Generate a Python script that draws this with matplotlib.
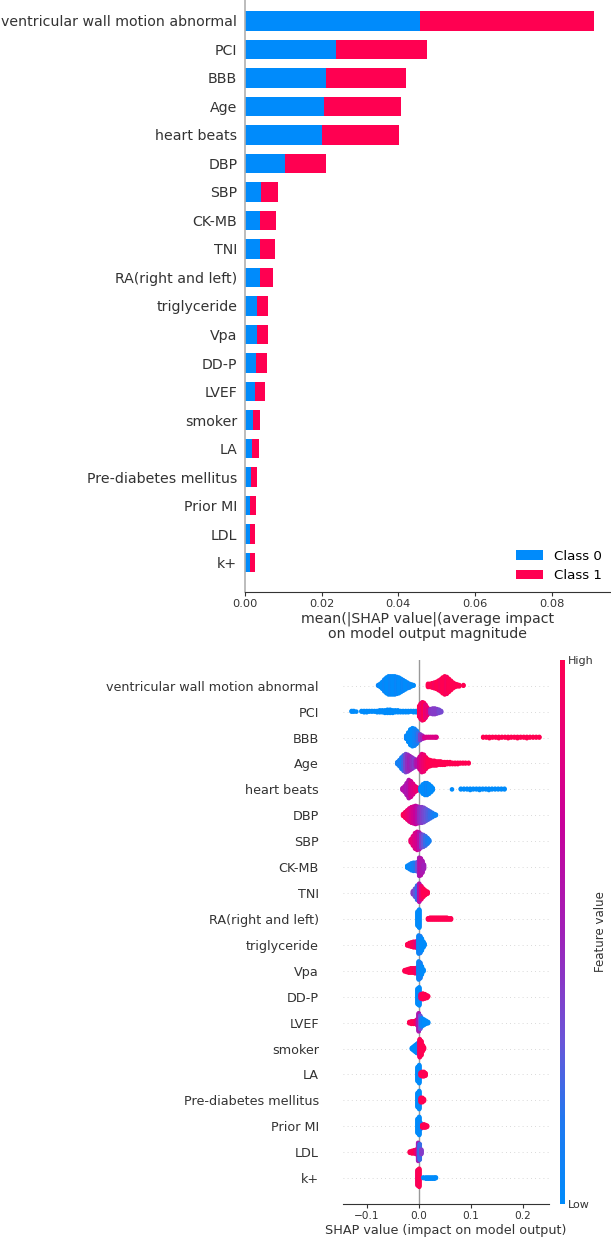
import math
import matplotlib
matplotlib.use("Agg")
import matplotlib as mpl
import matplotlib.pyplot as plt
from matplotlib.colors import LinearSegmentedColormap, Normalize

# features, top to bottom
features = ["ventricular wall motion abnormal", "PCI", "BBB", "Age", "heart beats",
            "DBP", "SBP", "CK-MB", "TNI", "RA(right and left)", "triglyceride", "Vpa",
            "DD-P", "LVEF", "smoker", "LA", "Pre-diabetes mellitus", "Prior MI", "LDL", "k+"]

# mean |SHAP| per class (bar chart)
class0 = [0.0456, 0.0238, 0.0212, 0.0205, 0.0201, 0.0105, 0.0042, 0.0040, 0.0040, 0.0038,
          0.0031, 0.0031, 0.0028, 0.0026, 0.0021, 0.0019, 0.0015, 0.0013, 0.0013, 0.0013]
class1 = [0.0454, 0.0236, 0.0209, 0.0202, 0.0201, 0.0107, 0.0044, 0.0042, 0.0039, 0.0036,
          0.0030, 0.0030, 0.0029, 0.0026, 0.0019, 0.0017, 0.0017, 0.0015, 0.0013, 0.0013]
class_names = ["Class 0", "Class 1"]

# beeswarm: for each feature, SHAP value bins, number of dots in the bin, feature value (0 low - 1 high)
swarm_x = [
    [-0.078, -0.074, -0.070, -0.066, -0.062, -0.058, -0.054, -0.050, -0.046, -0.042, -0.038, -0.034,
     -0.030, -0.026, -0.022, -0.018, -0.014, -0.010, 0.018, 0.022, 0.026, 0.030, 0.034, 0.038, 0.042,
     0.046, 0.050, 0.054, 0.058, 0.062, 0.066, 0.070, 0.074, 0.078, 0.086],
    [-0.129, -0.125, -0.120, -0.110, -0.105, -0.100, -0.095, -0.090, -0.085, -0.080, -0.075, -0.070,
     -0.065, -0.060, -0.055, -0.050, -0.045, -0.040, -0.035, -0.030, -0.025, -0.020, -0.015, -0.010,
     -0.005, 0.001, 0.004, 0.007, 0.010, 0.013, 0.016, 0.019, 0.023, 0.027, 0.031, 0.035, 0.039, 0.043],
    [-0.024, -0.020, -0.016, -0.012, -0.008, -0.004, -0.001, 0.003, 0.007, 0.011, 0.015, 0.019, 0.023,
     0.027, 0.031, 0.034, 0.124, 0.130, 0.136, 0.142, 0.148, 0.154, 0.160, 0.166, 0.172, 0.178, 0.184,
     0.190, 0.196, 0.202, 0.208, 0.214, 0.220, 0.226, 0.232],
    [-0.041, -0.037, -0.033, -0.029, -0.025, -0.021, -0.017, -0.013, -0.009, -0.005, -0.002, 0.002,
     0.006, 0.010, 0.014, 0.018, 0.022, 0.026, 0.030, 0.034, 0.038, 0.042, 0.046, 0.050, 0.055, 0.060,
     0.065, 0.070, 0.075, 0.080, 0.085, 0.090, 0.096],
    [-0.031, -0.027, -0.023, -0.019, -0.015, -0.011, -0.007, -0.003, 0.004, 0.008, 0.012, 0.016, 0.020,
     0.024, 0.027, 0.064, 0.081, 0.087, 0.093, 0.099, 0.105, 0.111, 0.117, 0.123, 0.129, 0.135, 0.141,
     0.147, 0.153, 0.159, 0.165],
    [-0.030, -0.026, -0.022, -0.018, -0.014, -0.010, -0.006, -0.002, 0.002, 0.006, 0.010, 0.014, 0.018,
     0.022, 0.026, 0.030, 0.033],
    [-0.015, -0.011, -0.007, -0.003, 0.001, 0.005, 0.009, 0.013, 0.017, 0.020],
    [-0.022, -0.018, -0.014, -0.010, -0.006, -0.002, 0.001, 0.004, 0.007, 0.010],
    [-0.011, -0.007, -0.003, 0.001, 0.005, 0.009, 0.013, 0.017],
    [-0.002, 0.001, 0.018, 0.022, 0.026, 0.030, 0.034, 0.038, 0.042, 0.046, 0.050, 0.054, 0.058, 0.062],
    [-0.022, -0.018, -0.014, -0.010, -0.006, -0.003, 0.000, 0.003, 0.006, 0.009, 0.011],
    [-0.027, -0.023, -0.019, -0.015, -0.011, -0.007, -0.003, 0.000, 0.003, 0.006, 0.009],
    [-0.002, 0.001, 0.004, 0.008, 0.012, 0.016, 0.018],
    [-0.018, -0.014, -0.010, -0.006, -0.003, 0.000, 0.003, 0.006, 0.010, 0.014, 0.018],
    [-0.013, -0.010, -0.007, -0.004, -0.001, 0.002, 0.005, 0.008, 0.010],
    [-0.002, 0.001, 0.004, 0.007, 0.010, 0.013],
    [-0.002, 0.001, 0.004, 0.007, 0.010],
    [-0.002, 0.001, 0.004, 0.007, 0.010, 0.013, 0.016],
    [-0.017, -0.013, -0.009, -0.005, -0.001, 0.002, 0.005],
    [-0.002, 0.001, 0.009, 0.014, 0.018, 0.022, 0.026, 0.030, 0.033],
]
swarm_n = [
    [2, 6, 12, 20, 26, 30, 30, 30, 30, 28, 26, 22, 18, 14, 10, 7, 4, 2,
     6, 6, 8, 10, 12, 16, 20, 26, 30, 28, 22, 16, 10, 6, 4, 3, 2],
    [2, 2, 1, 2, 3, 3, 2, 2, 2, 3, 4, 4, 5, 6, 6, 5, 4, 4, 3, 3, 3, 3, 2, 3, 3,
     18, 26, 30, 28, 22, 14, 8, 8, 10, 10, 8, 6, 3],
    [6, 16, 26, 30, 28, 22, 14, 10, 6, 3, 2, 2, 2, 2, 2, 2,
     2, 2, 3, 2, 2, 3, 2, 2, 3, 2, 2, 3, 2, 2, 3, 2, 2, 2, 2],
    [4, 10, 18, 24, 28, 26, 22, 18, 14, 10, 12, 20, 28, 26, 18, 12, 10, 8, 8, 7, 6, 6, 5, 5, 4, 4,
     3, 3, 3, 2, 2, 2, 2],
    [4, 10, 20, 30, 26, 18, 10, 6, 8, 16, 20, 20, 16, 10, 4, 1,
     2, 2, 2, 3, 2, 2, 3, 2, 2, 3, 2, 2, 2, 2, 2],
    [4, 10, 16, 22, 26, 28, 30, 28, 26, 26, 24, 20, 16, 12, 8, 4, 2],
    [6, 16, 26, 30, 28, 22, 20, 16, 10, 4],
    [4, 8, 12, 14, 14, 16, 30, 28, 20, 8],
    [6, 14, 24, 30, 22, 14, 8, 4],
    [24, 30, 3, 4, 4, 4, 4, 4, 4, 4, 4, 4, 3, 3],
    [3, 6, 8, 10, 10, 12, 30, 28, 20, 10, 4],
    [3, 5, 7, 8, 8, 9, 10, 30, 26, 14, 4],
    [26, 30, 8, 10, 8, 5, 2],
    [3, 5, 5, 6, 10, 30, 22, 14, 10, 6, 3],
    [3, 7, 11, 15, 18, 30, 24, 10, 4],
    [24, 30, 6, 8, 8, 5],
    [24, 30, 8, 8, 4],
    [24, 30, 10, 5, 6, 5, 3],
    [3, 5, 6, 8, 30, 26, 8],
    [26, 30, 2, 3, 3, 3, 3, 3, 2],
]
swarm_c = [
    [0.05, 0.0, 0.0, 0.05, 0.0, 0.0, 0.05, 0.0, 0.0, 0.05, 0.0, 0.0, 0.05, 0.0, 0.0, 0.05, 0.0, 0.0,
     1.0, 1.0, 1.0, 0.95, 1.0, 1.0, 0.95, 1.0, 1.0, 0.95, 1.0, 1.0, 1.0, 1.0, 1.0, 1.0, 1.0],
    [0.0] * 25 + [1.0, 0.95, 0.9, 1.0, 0.85, 0.9, 0.8, 0.45, 0.4, 0.4, 0.4, 0.35, 0.35],
    [0.05, 0.0, 0.0, 0.0, 0.05, 0.1, 0.2, 0.4, 0.5, 0.75, 0.8, 0.8, 0.8, 0.8, 0.8, 0.8] + [1.0] * 19,
    [0.1, 0.1, 0.1, 0.2, 0.35, 0.45, 0.5, 0.45, 0.4, 0.55, 0.6, 0.75, 0.85, 0.9, 0.95, 1.0, 1.0, 1.0,
     1.0, 1.0, 1.0, 1.0, 1.0, 1.0, 1.0, 1.0, 1.0, 1.0, 1.0, 1.0, 1.0, 1.0, 1.0],
    [0.6, 0.6, 0.55, 0.6, 0.75, 0.8, 0.85, 0.9, 0.0, 0.0, 0.0, 0.05, 0.0, 0.0, 0.0, 0.0] + [0.0] * 15,
    [1.0, 0.95, 0.9, 0.85, 0.8, 0.75, 0.7, 0.6, 0.45, 0.4, 0.35, 0.3, 0.25, 0.2, 0.15, 0.1, 0.05],
    [0.9, 0.85, 0.8, 0.75, 0.6, 0.4, 0.3, 0.2, 0.15, 0.1],
    [0.0, 0.05, 0.05, 0.1, 0.15, 0.3, 0.55, 0.6, 0.55, 0.5],
    [0.4, 0.3, 0.2, 0.6, 0.9, 1.0, 1.0, 1.0],
    [0.0, 0.0] + [1.0] * 12,
    [1.0, 1.0, 1.0, 0.95, 0.9, 0.8, 0.05, 0.1, 0.0, 0.0, 0.0],
    [1.0, 1.0, 1.0, 1.0, 1.0, 0.95, 0.9, 0.05, 0.1, 0.0, 0.0],
    [0.0, 0.0, 0.9, 1.0, 1.0, 1.0, 1.0],
    [1.0, 1.0, 1.0, 0.95, 0.85, 0.55, 0.3, 0.05, 0.0, 0.0, 0.0],
    [0.0, 0.0, 0.0, 0.0, 0.1, 0.95, 1.0, 1.0, 1.0],
    [0.0, 0.0, 1.0, 1.0, 1.0, 1.0],
    [0.0, 0.0, 1.0, 1.0, 1.0],
    [0.0, 0.0, 0.05, 1.0, 1.0, 1.0, 1.0],
    [1.0, 1.0, 1.0, 0.9, 0.5, 0.2, 0.4],
    [0.95, 1.0, 0.0, 0.0, 0.0, 0.0, 0.0, 0.0, 0.0],
]

blue = "#008bfb"
red = "#ff0051"
axis_color = "#333333"
red_blue = LinearSegmentedColormap.from_list(
    "red_blue", [(0.0, blue), (0.15, "#1f78f0"), (0.3, "#6a55d8"), (0.5, "#a020b8"),
                 (0.7, "#c8009a"), (0.85, "#e6007a"), (1.0, red)])

W, H = 611, 1240
fig = plt.figure(figsize=(W / 100, H / 100), dpi=100)
n_feat = len(features)
ypos = [n_feat - 1 - i for i in range(n_feat)]

# ---- top: stacked mean |SHAP| bars
ax1 = fig.add_axes([245 / W, (H - 591.7) / H, (W - 245) / W, 591.7 / H])
ax1.barh(ypos, class0, 0.68, color=blue, label=class_names[0])
ax1.barh(ypos, class1, 0.68, left=class0, color=red, label=class_names[1])
ax1.set_xlim(0, 0.0955)
ax1.set_ylim(-1.02, 19.73)
ax1.set_yticks(ypos)
ax1.set_yticklabels(features, fontsize=10.2, color=axis_color)
ax1.set_xticks([0, 0.02, 0.04, 0.06, 0.08])
ax1.set_xticklabels(["0.00", "0.02", "0.04", "0.06", "0.08"])
ax1.tick_params(axis="y", length=0, pad=5.5)
ax1.tick_params(axis="x", labelsize=8.2, colors=axis_color, length=3, pad=2)
for s in ["top", "right"]:
    ax1.spines[s].set_visible(False)
ax1.spines["left"].set_color("#b0b0b0")
ax1.spines["left"].set_linewidth(1.2)
ax1.spines["bottom"].set_color(axis_color)
ax1.set_xlabel("mean(|SHAP value|(average impact\non model output magnitude",
               fontsize=10.2, color=axis_color, labelpad=2, linespacing=1.1)
ax1.legend(loc="lower right", frameon=False, fontsize=9.6, handlelength=2.0,
           handleheight=0.7, borderaxespad=0.3)

# ---- bottom: beeswarm
ax2 = fig.add_axes([342.6 / W, 36 / H, 206.4 / W, 544.2 / H])
ax2.axvline(0, color="#999999", lw=1, zorder=-1)
for i in range(n_feat):
    pos = ypos[i]
    ax2.axhline(pos, color="#cccccc", lw=0.6, dashes=(1, 4), zorder=-1)
    xs, ns, cs = swarm_x[i], swarm_n[i], swarm_c[i]
    half = max(math.ceil((n - 1) / 2) for n in ns)
    dy = 0.36 / half
    px, py, pc = [], [], []
    for x, n, c in zip(xs, ns, cs):
        for j in range(n):
            k = math.ceil(j / 2) * (1 if j % 2 else -1)
            px.append(x)
            py.append(pos + k * dy)
            pc.append(c)
    ax2.scatter(px, py, c=pc, cmap=red_blue, vmin=0, vmax=1, s=11, linewidths=0, zorder=3)

ax2.set_xlim(-0.1464, 0.2506)
ax2.set_ylim(-1, n_feat)
ax2.set_yticks(ypos)
ax2.set_yticklabels(features, fontsize=9.2, color=axis_color)
ax2.set_xticks([-0.1, 0.0, 0.1, 0.2])
ax2.tick_params(axis="y", length=0, pad=17)
ax2.tick_params(axis="x", labelsize=7.6, colors=axis_color, length=3, pad=2)
for s in ["top", "right", "left"]:
    ax2.spines[s].set_visible(False)
ax2.spines["bottom"].set_color(axis_color)
ax2.set_xlabel("SHAP value (impact on model output)", fontsize=9.2, color=axis_color, labelpad=2)

# colour bar
cax = fig.add_axes([560 / W, 36 / H, 5 / W, 544 / H])
cb = mpl.colorbar.ColorbarBase(cax, cmap=red_blue, norm=Normalize(0, 1), ticks=[0, 1])
cb.set_ticklabels(["Low", "High"])
cb.ax.tick_params(labelsize=8, length=0, pad=2, colors=axis_color)
cb.set_label("Feature value", size=8.5, labelpad=0, color=axis_color)
cb.outline.set_visible(False)

fig.savefig("out.png", dpi=100)
